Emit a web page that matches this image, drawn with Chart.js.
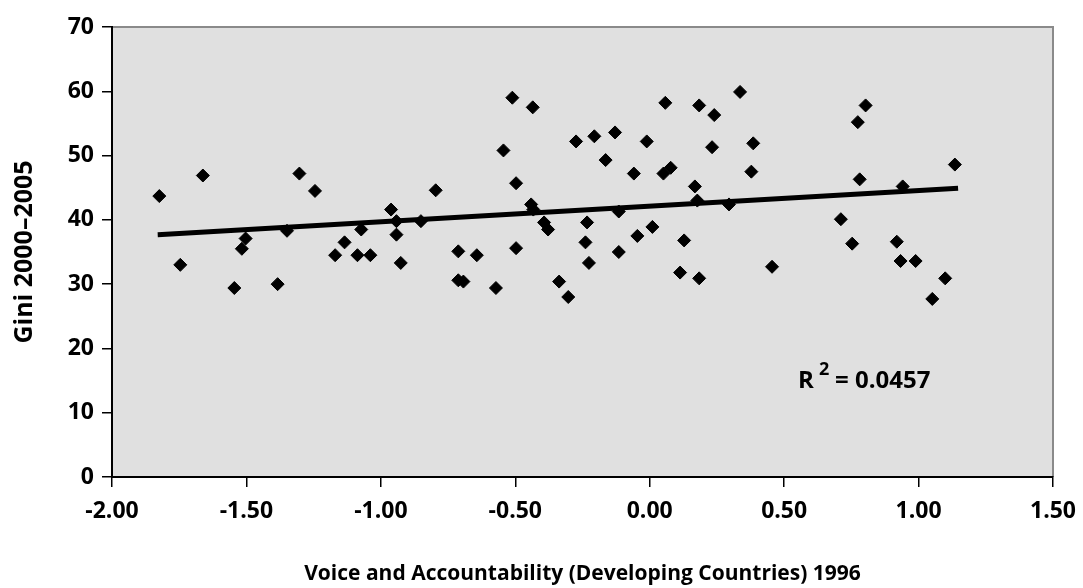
<!DOCTYPE html>
<html>
<head>
<meta charset="utf-8">
<script src="https://cdn.jsdelivr.net/npm/chart.js@4.4.1/dist/chart.umd.min.js"></script>
<style>
  body { margin: 0; background: #fff; }
  canvas { display: block; background: #fff; }
</style>
</head>
<body>
<canvas id="giniChart" width="1083" height="588"></canvas>
<script>
// Voice and Accountability 1996 (x) vs Gini 2000-2005 (y)
const voiceValues = [
  -1.824, -1.746, -1.662, -1.545, -1.517, -1.503, -1.384, -1.349, -1.303, -1.245,
  -1.170, -1.135, -1.087, -1.073, -1.039, -0.962, -0.942, -0.942, -0.926, -0.851,
  -0.796, -0.712, -0.712, -0.693, -0.643, -0.572, -0.544, -0.511, -0.497, -0.497,
  -0.435, -0.441, -0.433, -0.393, -0.378, -0.337, -0.303, -0.274, -0.233, -0.239,
  -0.226, -0.206, -0.164, -0.129, -0.115, -0.115, -0.059, -0.046, -0.011, 0.010,
  0.051, 0.078, 0.058, 0.128, 0.113, 0.168, 0.177, 0.184, 0.240, 0.336,
  0.232, 0.385, 0.378, 0.295, 0.184, 0.455, 0.803, 0.774, 0.781, 0.941,
  1.135, 0.711, 0.753, 0.919, 0.933, 0.989, 1.099, 1.051
];
const giniValues = [
  43.7, 33.0, 46.9, 29.4, 35.5, 37.1, 30.0, 38.3, 47.2, 44.5,
  34.5, 36.5, 34.5, 38.5, 34.5, 41.6, 39.8, 37.7, 33.3, 39.8,
  44.6, 35.1, 30.6, 30.4, 34.5, 29.4, 50.8, 59.0, 45.7, 35.6,
  57.5, 42.4, 41.6, 39.6, 38.5, 30.4, 28.0, 52.2, 39.6, 36.5,
  33.3, 53.0, 49.3, 53.6, 41.3, 35.0, 47.2, 37.5, 52.2, 38.9,
  47.2, 48.1, 58.2, 36.8, 31.8, 45.2, 43.0, 57.8, 56.3, 59.9,
  51.3, 51.9, 47.5, 42.4, 30.9, 32.7, 57.8, 55.2, 46.3, 45.2,
  48.6, 40.1, 36.3, 36.6, 33.6, 33.6, 30.9, 27.7
];
// trend line ends as drawn in the picture
const trendX = [-1.83, 1.147];
const trendY = [37.7, 44.9];

const xTicks = [-2.0, -1.5, -1.0, -0.5, 0.0, 0.5, 1.0, 1.5];
const yTicks = [0, 10, 20, 30, 40, 50, 60, 70];

const xTitle = 'Voice and Accountability (Developing Countries) 1996';
const yTitle = 'Gini 2000\u20132005';
const rSquared = '0.0457';

const FONT = '"Open Sans", "Noto Sans", sans-serif';

const points = voiceValues.map((v, i) => ({ x: v, y: giniValues[i] }));
const trend = trendX.map((v, i) => ({ x: v, y: trendY[i] }));

const plotFrame = {
  id: 'plotFrame',
  beforeDraw(chart) {
    const { ctx, chartArea: a } = chart;
    ctx.save();
    ctx.fillStyle = '#e0e0e0';
    ctx.fillRect(a.left, a.top, a.right - a.left, a.bottom - a.top);
    ctx.strokeStyle = '#8a8a8a';
    ctx.lineWidth = 2;
    ctx.beginPath();
    ctx.moveTo(a.left, a.top);
    ctx.lineTo(a.right, a.top);
    ctx.lineTo(a.right, a.bottom);
    ctx.stroke();
    ctx.restore();
  },
  afterDraw(chart) {
    const { ctx, chartArea: a } = chart;
    ctx.save();
    ctx.fillStyle = '#000';
    // x title
    ctx.font = 'bold 21px ' + FONT;
    ctx.textAlign = 'center';
    ctx.textBaseline = 'alphabetic';
    ctx.fillText(xTitle, (a.left + a.right) / 2, 580);
    // y title
    ctx.save();
    ctx.translate(31.5, (a.top + a.bottom) / 2);
    ctx.rotate(-Math.PI / 2);
    ctx.font = 'bold 25px ' + FONT;
    ctx.fillText(yTitle, 0, 0);
    ctx.restore();
    // R squared
    ctx.textAlign = 'left';
    ctx.font = 'bold 24px ' + FONT;
    ctx.fillText('R', 798, 388);
    ctx.font = 'bold 18px ' + FONT;
    ctx.fillText('2', 819, 375);
    ctx.font = 'bold 24px ' + FONT;
    ctx.fillText('= ' + rSquared, 835, 388);
    ctx.restore();
  }
};

const ctx = document.getElementById('giniChart').getContext('2d');
const giniChart = new Chart(ctx, {
  type: 'scatter',
  data: {
    datasets: [
      {
        label: 'Countries',
        data: points,
        pointStyle: 'rectRot',
        pointRadius: 6.5,
        backgroundColor: '#000',
        borderColor: '#000',
        borderWidth: 1,
        order: 2
      },
      {
        label: 'Trend',
        type: 'line',
        data: trend,
        showLine: true,
        pointRadius: 0,
        borderColor: '#000',
        borderWidth: 5,
        borderCapStyle: 'butt',
        fill: false,
        order: 1
      }
    ]
  },
  options: {
    responsive: false,
    animation: false,
    layout: { padding: { top: 27, right: 30, bottom: 0, left: 0 } },
    plugins: {
      legend: { display: false },
      tooltip: { enabled: false }
    },
    scales: {
      x: {
        type: 'linear',
        min: -2,
        max: 1.5,
        afterBuildTicks: (scale) => { scale.ticks = xTicks.map(v => ({ value: v })); },
        afterFit: (scale) => {
          scale.height = 111;
          scale.paddingLeft = 0;
          scale.paddingRight = 0;
        },
        border: { display: true, color: '#000', width: 2 },
        grid: { drawOnChartArea: false, drawTicks: true, tickLength: 10, color: '#000', lineWidth: 1.5 },
        ticks: {
          padding: 11,
          color: '#000',
          font: { family: FONT, size: 23, weight: 'bold' },
          maxRotation: 0,
          callback: (value) => value.toFixed(2)
        }
      },
      y: {
        type: 'linear',
        min: 0,
        max: 70,
        afterBuildTicks: (scale) => { scale.ticks = yTicks.map(v => ({ value: v })); },
        afterFit: (scale) => {
          scale.width = 112;
          scale.paddingTop = 0;
          scale.paddingBottom = 0;
        },
        border: { display: true, color: '#000', width: 2 },
        grid: { drawOnChartArea: false, drawTicks: true, tickLength: 10, color: '#000', lineWidth: 1.5 },
        ticks: {
          padding: 8,
          color: '#000',
          font: { family: FONT, size: 23, weight: 'bold' },
          callback: (value) => String(value)
        }
      }
    }
  },
  plugins: [plotFrame]
});
</script>
</body>
</html>
